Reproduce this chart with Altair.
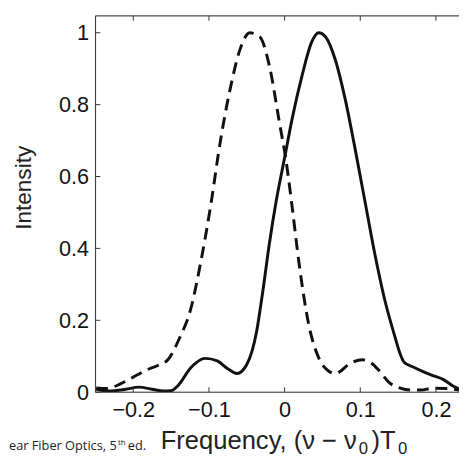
import altair as alt
import pandas as pd

solid_x = [-0.249, -0.232, -0.21, -0.193, -0.175, -0.16, -0.15, -0.141, -0.124, -0.105, -0.089, -0.075, -0.063, -0.05, -0.037, -0.029, -0.020, -0.011, 0.0, 0.010, 0.023, 0.036, 0.045, 0.054, 0.067, 0.080, 0.093, 0.106, 0.119, 0.132, 0.145, 0.153, 0.158, 0.170, 0.183, 0.196, 0.210, 0.222, 0.2305]
solid_y = [0.009, 0.003, 0.008, 0.014, 0.008, 0.003, 0.004, 0.018, 0.068, 0.094, 0.087, 0.065, 0.052, 0.077, 0.169, 0.278, 0.415, 0.533, 0.652, 0.761, 0.880, 0.975, 1.0, 0.989, 0.925, 0.816, 0.679, 0.533, 0.387, 0.260, 0.160, 0.105, 0.083, 0.070, 0.057, 0.046, 0.035, 0.018, 0.009]

dash_x = [-0.249, -0.236, -0.217, -0.20, -0.183, -0.167, -0.154, -0.139, -0.124, -0.111, -0.098, -0.085, -0.072, -0.059, -0.046, -0.033, -0.020, -0.007, 0.002, 0.010, 0.019, 0.032, 0.045, 0.058, 0.067, 0.088, 0.103, 0.114, 0.125, 0.138, 0.152, 0.166, 0.18, 0.196, 0.214, 0.2305]
dash_y = [0.012, 0.010, 0.023, 0.042, 0.061, 0.075, 0.091, 0.150, 0.232, 0.360, 0.515, 0.697, 0.843, 0.953, 1.0, 0.989, 0.907, 0.752, 0.643, 0.515, 0.360, 0.187, 0.096, 0.059, 0.052, 0.082, 0.090, 0.082, 0.060, 0.027, 0.012, 0.006, 0.006, 0.011, 0.010, 0.006]

x_ticks = [-0.2, -0.1, 0.0, 0.1, 0.2]
y_ticks = [0.0, 0.2, 0.4, 0.6, 0.8, 1.0]

X_DOMAIN = [-0.25, 0.2305]
Y_DOMAIN = [0, 1.047]
W, H = 370, 383
FONT = "Liberation Sans"

solid = pd.DataFrame({"x": solid_x, "y": solid_y})
dashed = pd.DataFrame({"x": dash_x, "y": dash_y})
xt = pd.DataFrame({"t": x_ticks})
yt = pd.DataFrame({"t": y_ticks})
one = xt.head(1)

xs = alt.Scale(domain=X_DOMAIN, nice=False, zero=False)
ys = alt.Scale(domain=Y_DOMAIN, nice=False, zero=False)

xaxis = alt.Axis(values=x_ticks, format=".1~f", ticks=False, domain=False, grid=False,
                 labelFontSize=22, labelFont=FONT, labelColor="#111", labelPadding=8, title=None)
yaxis = alt.Axis(values=y_ticks, format=".1~f", ticks=False, domain=False, grid=False,
                 labelFontSize=22, labelFont=FONT, labelColor="#111", labelPadding=7, title=None)

solid_line = alt.Chart(solid).mark_line(color="#111", strokeWidth=3, interpolate="monotone", clip=True).encode(
    x=alt.X("x:Q", scale=xs, axis=xaxis),
    y=alt.Y("y:Q", scale=ys, axis=yaxis),
)
dash_line = alt.Chart(dashed).mark_line(color="#111", strokeWidth=3, strokeDash=[12, 7], interpolate="monotone", clip=True).encode(
    x=alt.X("x:Q", scale=xs),
    y=alt.Y("y:Q", scale=ys),
)

# frame lines
frame_left = alt.Chart(one).mark_rule(color="#333", strokeWidth=1).encode(
    x=alt.value(0), y=alt.value(0), y2=alt.value(H))
frame_top = alt.Chart(one).mark_rule(color="#333", strokeWidth=1).encode(
    x=alt.value(0), x2=alt.value(W), y=alt.value(0))
frame_bottom = alt.Chart(one).mark_rule(color="#333", strokeWidth=1).encode(
    x=alt.value(0), x2=alt.value(W), y=alt.value(H))

# inward ticks
tick_bottom = alt.Chart(xt).mark_rule(color="#333", strokeWidth=1).encode(
    x=alt.X("t:Q", scale=xs), y=alt.value(H), y2=alt.value(H - 5))
tick_top = alt.Chart(xt).mark_rule(color="#333", strokeWidth=1).encode(
    x=alt.X("t:Q", scale=xs), y=alt.value(0), y2=alt.value(5))
tick_left = alt.Chart(yt).mark_rule(color="#333", strokeWidth=1).encode(
    y=alt.Y("t:Q", scale=ys), x=alt.value(0), x2=alt.value(5))

# titles
ytitle = alt.Chart(one).mark_text(text="Intensity", font=FONT, fontSize=23, angle=270,
                                  align="center", baseline="middle", color="#222").encode(
    x=alt.value(-73), y=alt.value(175))
xt_main = alt.Chart(one).mark_text(text="Frequency, (ν − ν", font=FONT, fontSize=26,
                                   align="right", baseline="alphabetic", color="#222").encode(
    x=alt.value(266), y=alt.value(441))
xt_sub1 = alt.Chart(one).mark_text(text="0", font=FONT, fontSize=17,
                                   align="left", baseline="alphabetic", color="#222").encode(
    x=alt.value(268), y=alt.value(446))
xt_mid = alt.Chart(one).mark_text(text=")T", font=FONT, fontSize=26,
                                  align="left", baseline="alphabetic", color="#222").encode(
    x=alt.value(281), y=alt.value(441))
xt_sub2 = alt.Chart(one).mark_text(text="0", font=FONT, fontSize=17,
                                   align="left", baseline="alphabetic", color="#222").encode(
    x=alt.value(308), y=alt.value(446))

src1 = alt.Chart(one).mark_text(text="ear Fiber Optics, 5", font="Open Sans", fontSize=13,
                                align="left", baseline="alphabetic", color="#222").encode(
    x=alt.value(-88), y=alt.value(442))
src2 = alt.Chart(one).mark_text(text="th", font="Open Sans", fontSize=8,
                                align="left", baseline="alphabetic", color="#222").encode(
    x=alt.value(23), y=alt.value(437))
src3 = alt.Chart(one).mark_text(text="ed.", font="Open Sans", fontSize=13,
                                align="left", baseline="alphabetic", color="#222").encode(
    x=alt.value(33), y=alt.value(442))

chart = alt.layer(
    dash_line, solid_line, frame_left, frame_top, frame_bottom, tick_bottom, tick_top, tick_left,
    ytitle, xt_main, xt_sub1, xt_mid, xt_sub2, src1, src2, src3,
).properties(
    width=W, height=H,
    autosize=alt.AutoSizeParams(type="none"),
    padding={"left": 89, "top": 4, "right": 0, "bottom": 63},
).configure_view(stroke=None).configure(background="white")

chart.save("out.html", embed_options={"renderer": "svg", "actions": False})
